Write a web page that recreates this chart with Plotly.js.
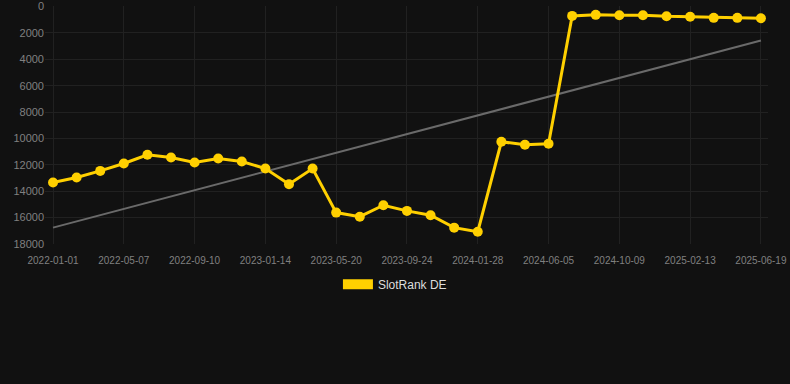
<!DOCTYPE html>
<html>
<head>
<meta charset="utf-8">
<script src="https://cdn.plot.ly/plotly-3.0.1.min.js"></script>
<style>html,body{margin:0;padding:0;background:#111111;}#chart{width:790px;height:384px;}</style>
</head>
<body>
<div id="chart"></div>
<script>
const dates = ["2022-01-01","2022-02-12","2022-03-26","2022-05-07","2022-06-18","2022-07-30","2022-09-10","2022-10-22","2022-12-03","2023-01-14","2023-02-25","2023-04-08","2023-05-20","2023-07-01","2023-08-12","2023-09-24","2023-11-05","2023-12-17","2024-01-28","2024-03-10","2024-04-22","2024-06-05","2024-07-17","2024-08-28","2024-10-09","2024-11-20","2025-01-01","2025-02-13","2025-03-27","2025-05-08","2025-06-19"];
const rankDE = [13340,12960,12460,11900,11240,11440,11820,11520,11750,12280,13470,12280,15620,15930,15060,15490,15820,16760,17070,10250,10480,10400,710,630,660,660,740,780,860,860,890];
const trendX = ["2022-01-01","2025-06-19"];
const trendY = [16760,2580];
const tickLabels = ["2022-01-01","2022-05-07","2022-09-10","2023-01-14","2023-05-20","2023-09-24","2024-01-28","2024-06-05","2024-10-09","2025-02-13","2025-06-19"];
const yTicks = [0,2000,4000,6000,8000,10000,12000,14000,16000,18000];

const traces = [
  {x: trendX, y: trendY, type:'scatter', mode:'lines', line:{color:'#6a6a6a', width:2}, showlegend:false, hoverinfo:'skip'},
  {x: dates, y: rankDE, type:'scatter', mode:'lines+markers', name:'SlotRank DE', line:{color:'#FFD000', width:3}, marker:{color:'#FFD000', size:10}, showlegend:false},
  {x: [null], y: [null], type:'scatter', mode:'lines', name:'SlotRank DE', line:{color:'#FFD000', width:11}, showlegend:true}
];

const layout = {
  width:790, height:384,
  paper_bgcolor:'#111111', plot_bgcolor:'#111111',
  margin:{l:45, r:22, t:6, b:140, autoexpand:false},
  font:{family:'"Liberation Sans", Arial, sans-serif', color:'#808080'},
  xaxis:{type:'category', categoryorder:'array', categoryarray:dates, range:[-0.34,30.3], automargin:false,
    tickmode:'array', tickvals:tickLabels, ticktext:tickLabels, tickangle:0, ticklabelstandoff:9,
    tickfont:{size:10, color:'#808080'}, gridcolor:'#212121', showline:false, zeroline:false, ticks:''},
  yaxis:{range:[18000,-40], tickvals:yTicks, tickformat:'d', automargin:false, tickfont:{size:11, color:'#808080'}, gridcolor:'#212121', zeroline:false, showline:false, ticks:''},
  showlegend:true,
  legend:{orientation:'h', x:0.484, xanchor:'center', y:-0.108, yanchor:'top', font:{size:12, color:'#dddddd'}, bgcolor:'rgba(0,0,0,0)'}
};
Plotly.newPlot('chart', traces, layout, {displayModeBar:false, staticPlot:true});
</script>
</body>
</html>
